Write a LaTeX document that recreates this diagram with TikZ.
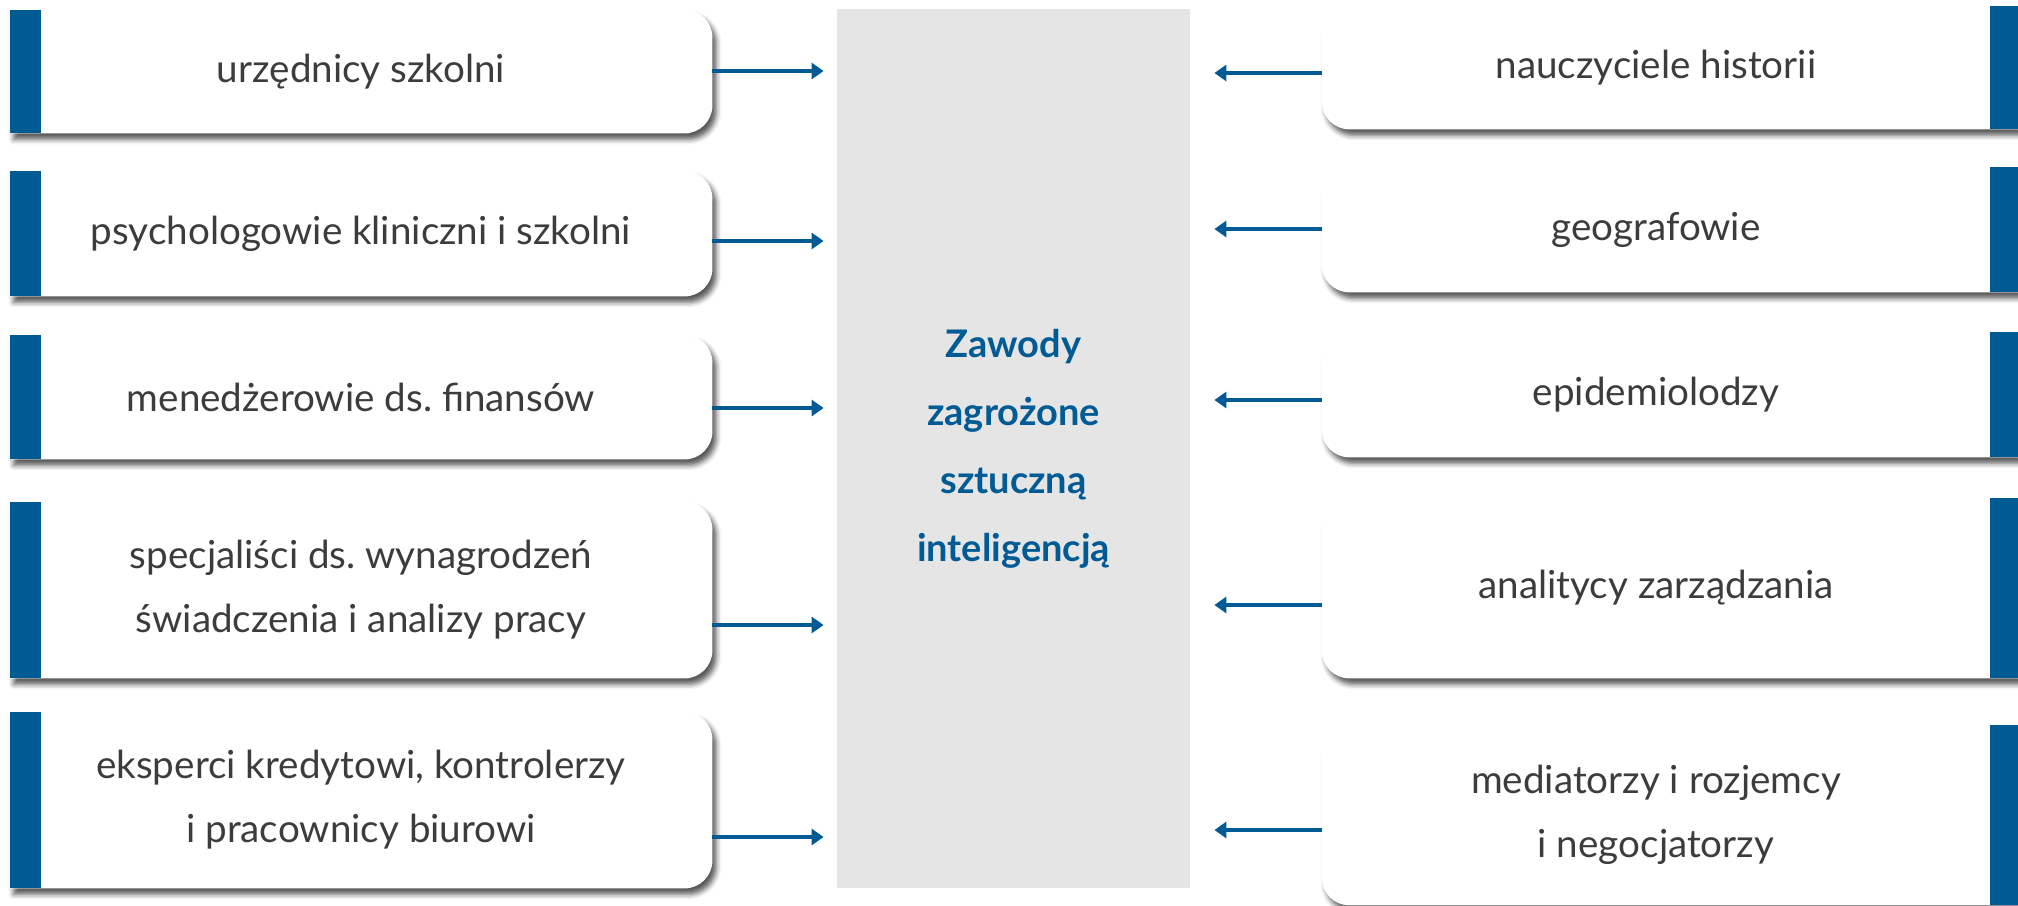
\documentclass[tikz,border=0pt]{standalone}
\usepackage{fontspec}
\setmainfont{Lato}
\usetikzlibrary{backgrounds,shadows.blur,arrows.meta}
\definecolor{bblue}{RGB}{0,90,148}
\definecolor{tgray}{RGB}{60,60,60}
\definecolor{cgray}{RGB}{229,229,229}
\frenchspacing
\newcommand{\leftshape}[1]{%
  \fill[white,bshadow] (#1.south west) -- (#1.north west) -- ([xshift=-14pt]#1.north east)
    arc[start angle=90,end angle=0,radius=14pt] -- ([yshift=14pt]#1.south east)
    arc[start angle=0,end angle=-90,radius=14pt] -- cycle;
  \fill[bblue] (#1.south west) rectangle ([xshift=15.5pt]#1.north west);}
\newcommand{\rightshape}[1]{%
  \fill[white,bshadow] ([xshift=14pt]#1.north east) -- ([xshift=14pt]#1.north west)
    arc[start angle=90,end angle=180,radius=14pt] -- ([yshift=14pt]#1.south west)
    arc[start angle=180,end angle=270,radius=14pt] -- ([xshift=14pt]#1.south east) -- cycle;
  \fill[bblue] (#1.south east) rectangle ([xshift=14pt]#1.north east);}
\begin{document}
\begin{tikzpicture}[x=0.5pt,y=-0.5pt,
  bshadow/.style={blur shadow={shadow xshift=2pt,shadow yshift=-3pt,shadow blur radius=2.5pt,shadow opacity=65}},
  jobbox/.style={inner sep=0pt,align=center,text=tgray,font=\fontsize{19.3}{32}\selectfont},
  lbox/.style={jobbox,minimum width=351pt},
  rbox/.style={jobbox,minimum width=334pt},
  arr/.style={draw=bblue,line width=2pt,-{Triangle[length=6pt,width=8pt]}}]
\useasboundingbox (0,0) rectangle (2018,905);
% center
\node[fill=cgray,minimum width=176.5pt,minimum height=439.5pt,inner sep=0pt,align=center,
  text=bblue,font=\fontsize{19}{34}\selectfont\bfseries] (C) at (1013.5,448.5)
  {Zawody\\zagrożone\\sztuczną\\inteligencją};
% left boxes
\node[lbox,minimum height=61.5pt] (L1) at (361,71.5) {urzędnicy szkolni};
\node[lbox,minimum height=62.5pt] (L2) at (361,233.5) {psychologowie kliniczni i szkolni};
\node[lbox,minimum height=62pt] (L3) at (361,397) {menedżerowie ds. finansów};
\node[lbox,minimum height=88pt] (L4) at (361,590) {specjaliści ds. wynagrodzeń\\świadczenia i analizy pracy};
\node[lbox,minimum height=88pt] (L5) at (361,800) {eksperci kredytowi, kontrolerzy\\i pracownicy biurowi};
% right boxes
\node[rbox,minimum height=61.5pt] (R1) at (1656,67.5) {nauczyciele historii};
\node[rbox,minimum height=62.5pt] (R2) at (1656,229.5) {geografowie};
\node[rbox,minimum height=62.5pt] (R3) at (1656,394.5) {epidemiolodzy};
\node[rbox,minimum height=90pt] (R4) at (1656,588) {analitycy zarządzania};
\node[rbox,minimum height=90pt] (R5) at (1656,815) {mediatorzy i rozjemcy\\i negocjatorzy};
\begin{scope}[on background layer]
  \leftshape{L1}\leftshape{L2}\leftshape{L3}\leftshape{L4}\leftshape{L5}
  \rightshape{R1}\rightshape{R2}\rightshape{R3}\rightshape{R4}\rightshape{R5}
\end{scope}
% arrow heights
\coordinate (a1) at (0,71);
\coordinate (a2) at (0,241);
\coordinate (a3) at (0,408);
\coordinate (a4) at (0,625);
\coordinate (a5) at (0,837);
\coordinate (b1) at (0,73);
\coordinate (b2) at (0,229);
\coordinate (b3) at (0,400);
\coordinate (b4) at (0,605);
\coordinate (b5) at (0,830);
\foreach \i in {1,...,5}{
  \draw[arr,shorten >=6.5pt] (L\i.east |- a\i) -- (C.west |- a\i);
  \draw[arr,shorten >=12pt] (R\i.west |- b\i) -- (C.east |- b\i);
}
\end{tikzpicture}
\end{document}
